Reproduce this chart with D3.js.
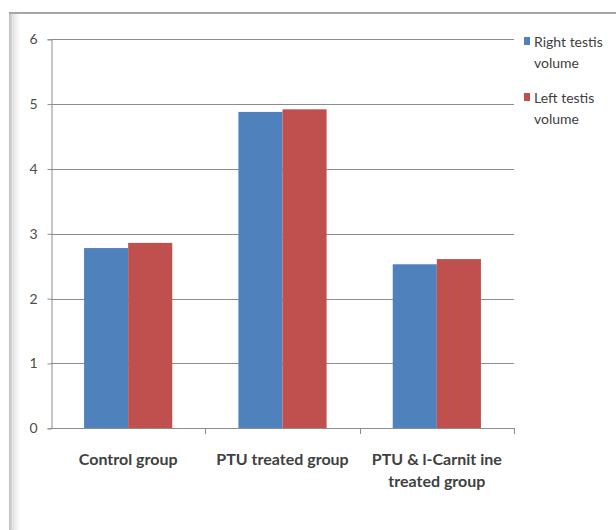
<!DOCTYPE html>
<html>
<head>
<meta charset="utf-8">
<script src="https://cdn.jsdelivr.net/npm/d3@7"></script>
<style>
  html, body { margin: 0; padding: 0; background: #fff; }
  svg { display: block; }
</style>
</head>
<body>
<svg id="chart" width="616" height="530"></svg>
<script>
// Testis volume by treatment group
const categories = ["Control group", "PTU treated group", "PTU & l-Carnit ine\ntreated group"];
const seriesNames = ["Right testis\nvolume", "Left testis\nvolume"];
const rightVolume = [2.78, 4.88, 2.53];
const leftVolume = [2.86, 4.92, 2.61];
const yTicks = [0, 1, 2, 3, 4, 5, 6];
const colors = ["#4F81BD", "#C0504D"];

const values = [rightVolume, leftVolume];
const table = categories.map((c, i) => ({ cat: c, vals: values.map(v => v[i]) }));

const svg = d3.select("#chart");
const W = 616, H = 530;
const plot = { left: 51, right: 514, top: 39.3, bottom: 428.3 };
const font = "Lato, 'Open Sans', sans-serif";

// chart area frame: top rule and shaded left edge
const defs = svg.append("defs");
const grad = defs.append("linearGradient").attr("id", "edge").attr("x1", "0").attr("x2", "1").attr("y1", "0").attr("y2", "0");
grad.append("stop").attr("offset", "0").attr("stop-color", "#bdbdbd");
grad.append("stop").attr("offset", "0.35").attr("stop-color", "#e4e4e4");
grad.append("stop").attr("offset", "1").attr("stop-color", "#ffffff");
svg.append("rect").attr("x", 9).attr("y", 13).attr("width", 11).attr("height", H - 13).attr("fill", "url(#edge)");
svg.append("line").attr("x1", 9).attr("x2", W).attr("y1", 13).attr("y2", 13)
  .attr("stroke", "#a6a6a6").attr("stroke-width", 2);

const y = d3.scaleLinear().domain([0, 6]).range([plot.bottom, plot.top]);
const x0 = d3.scaleBand().domain(categories).range([plot.left, plot.right]).paddingInner(0).paddingOuter(0);
const x1 = d3.scaleBand().domain(d3.range(seriesNames.length)).range([0, x0.bandwidth()])
  .paddingInner(0).paddingOuter(0.75);

// horizontal gridlines
svg.append("g").selectAll("line").data(yTicks.filter(t => t > 0)).join("line")
  .attr("x1", plot.left).attr("x2", plot.right)
  .attr("y1", d => Math.round(y(d)) + 0.5).attr("y2", d => Math.round(y(d)) + 0.5)
  .attr("stroke", "#8c8c8c").attr("stroke-width", 1);

// bars
svg.append("g").selectAll("g").data(table).join("g")
  .attr("transform", d => `translate(${x0(d.cat)},0)`)
  .selectAll("rect").data(d => d.vals.map((v, s) => ({ v, s }))).join("rect")
  .attr("x", d => x1(d.s))
  .attr("width", x1.bandwidth())
  .attr("y", d => y(d.v))
  .attr("height", d => y(0) - y(d.v))
  .attr("fill", d => colors[d.s]);

// y axis
const yAxis = d3.axisLeft(y).tickValues(yTicks).tickSize(4).tickPadding(10).tickFormat(d3.format("d"));
const gy = svg.append("g").attr("transform", `translate(${plot.left + 0.5},0)`).call(yAxis);
gy.select(".domain").attr("stroke", "#8c8c8c");
gy.selectAll(".tick line").attr("stroke", "#8c8c8c");
gy.selectAll(".tick text").attr("fill", "#4d4d4d").attr("font-family", font)
  .attr("font-size", 14);

// x axis baseline with category boundary ticks
svg.append("line").attr("x1", plot.left).attr("x2", plot.right + 0.5)
  .attr("y1", Math.round(y(0)) + 0.5).attr("y2", Math.round(y(0)) + 0.5)
  .attr("stroke", "#8c8c8c");
const bounds = categories.map(c => x0(c) + x0.bandwidth());
svg.append("g").selectAll("line").data(bounds).join("line")
  .attr("x1", d => Math.round(d) + 0.5).attr("x2", d => Math.round(d) + 0.5)
  .attr("y1", Math.round(y(0))).attr("y2", Math.round(y(0)) + 6)
  .attr("stroke", "#8c8c8c");

// category labels
svg.append("g").selectAll("text").data(categories).join("text")
  .attr("x", d => x0(d) + x0.bandwidth() / 2)
  .attr("y", 465)
  .attr("text-anchor", "middle")
  .attr("font-family", font)
  .attr("font-size", 16).attr("font-weight", 700).attr("fill", "#404040")
  .each(function (d) {
    d.split("\n").forEach((line, i) => {
      d3.select(this).append("tspan").attr("x", x0(d) + x0.bandwidth() / 2)
        .attr("dy", i === 0 ? 0 : 22).text(line);
    });
  });

// legend
const legend = svg.append("g").selectAll("g").data(seriesNames).join("g")
  .attr("transform", (d, i) => `translate(524,${47 + i * 56})`);
legend.append("rect").attr("x", 0).attr("y", -10).attr("width", 6).attr("height", 8)
  .attr("fill", (d, i) => colors[i]);
legend.append("text")
  .attr("font-family", font)
  .attr("font-size", 14).attr("fill", "#404040")
  .each(function (d) {
    d.split("\n").forEach((line, i) => {
      d3.select(this).append("tspan").attr("x", 10).attr("dy", i === 0 ? 0 : 21).text(line);
    });
  });
</script>
</body>
</html>
